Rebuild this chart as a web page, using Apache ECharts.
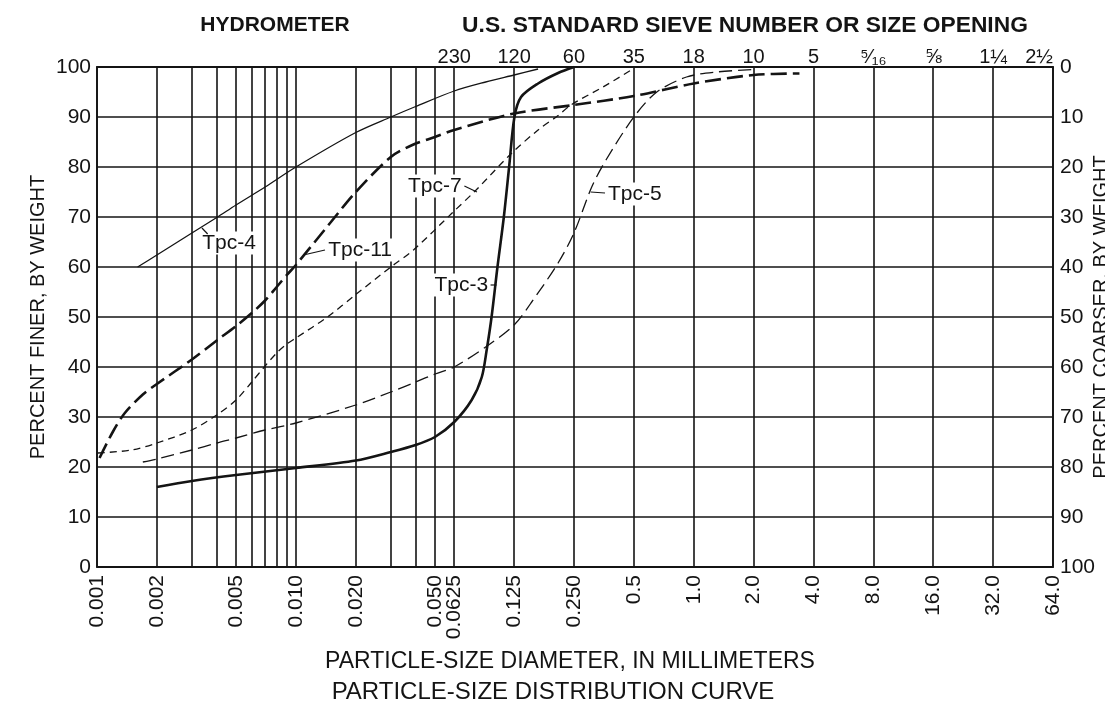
<!DOCTYPE html>
<html><head><meta charset="utf-8">
<script src="https://cdn.jsdelivr.net/npm/echarts@6/dist/echarts.min.js"></script>
<style>html,body{margin:0;padding:0;background:#fff}#c{width:1105px;height:722px}</style>
</head><body><div id="c"></div>
<script>
// ---- data (particle size in mm, percent finer by weight) ----
const tpc4Size  = [0.0016, 0.002, 0.003, 0.004, 0.005, 0.007, 0.010, 0.020, 0.030, 0.040, 0.0625, 0.09, 0.125, 0.165];
const tpc4Finer = [60, 62.4, 66.8, 69.9, 72.4, 76, 80, 86.9, 90, 92.1, 95.2, 97, 98.4, 99.6];

const tpc11Size  = [0.00103, 0.0012, 0.00138, 0.0017, 0.002, 0.003, 0.004, 0.005, 0.006, 0.007, 0.008, 0.009, 0.010, 0.015, 0.020, 0.030, 0.039, 0.050, 0.0625, 0.125, 0.25, 0.5, 1.0, 2.0, 3.4];
const tpc11Finer = [21.8, 27, 30.8, 34.5, 36.6, 41.5, 45.3, 48.2, 50.8, 53.3, 56, 58.4, 60.4, 69, 75, 82, 84.5, 86, 87.4, 90.7, 92.4, 94.2, 96.7, 98.4, 98.7];

const tpc7Size  = [0.00101, 0.0015, 0.002, 0.003, 0.004, 0.005, 0.006, 0.007, 0.008, 0.009, 0.010, 0.0144, 0.020, 0.030, 0.039, 0.061, 0.0805, 0.121, 0.165, 0.208, 0.241, 0.35, 0.49];
const tpc7Finer = [22.8, 23.4, 24.8, 27.4, 30.4, 33.4, 37, 40.2, 42.8, 44.6, 45.8, 50, 54.5, 60, 63.4, 70.8, 75.4, 82.7, 87.4, 90.3, 92.4, 96, 99.5];

const tpc3Size  = [0.002, 0.003, 0.005, 0.010, 0.020, 0.030, 0.040, 0.050, 0.0625, 0.0765, 0.086, 0.091, 0.0963, 0.1031, 0.111, 0.118, 0.1255, 0.1355, 0.165, 0.208, 0.25];
const tpc3Finer = [16, 17.2, 18.4, 19.8, 21.3, 23, 24.4, 26, 29, 33.4, 38, 43.4, 50, 60, 70, 80, 90, 94, 96.7, 98.8, 100];

const tpc5Size  = [0.0017, 0.002, 0.003, 0.004, 0.005, 0.007, 0.010, 0.020, 0.030, 0.040, 0.050, 0.0625, 0.093, 0.125, 0.152, 0.208, 0.25, 0.307, 0.362, 0.5, 0.652, 0.92, 1.3, 2.0];
const tpc5Finer = [21, 21.6, 23.4, 24.8, 25.8, 27.4, 28.8, 32.4, 35, 37, 38.6, 40, 44.4, 48.4, 52.8, 60.8, 66.8, 76, 81.4, 90, 95, 98, 99, 99.5];

// ---- ticks ----
const xGridValues  = [0.001,0.002,0.003,0.004,0.005,0.006,0.007,0.008,0.009,0.010,0.020,0.030,0.040,0.050,0.0625,0.125,0.25,0.5,1,2,4,8,16,32,64];
const xLabelValues = [0.001,0.002,0.005,0.010,0.020,0.050,0.0625,0.125,0.250,0.5,1,2,4,8,16,32,64];
const xLabelTexts  = ['0.001','0.002','0.005','0.010','0.020','0.050','0.0625','0.125','0.250','0.5','1.0','2.0','4.0','8.0','16.0','32.0','64.0'];
const sieveValues  = [0.0625,0.125,0.25,0.5,1,2,4,8,16,32,64];
const sieveLabels  = ['230','120','60','35','18','10','5','\u2075\u2044\u2081\u2086','\u215D','1\u00BC','2\u00BD'];

// ---- curve labels (data coordinates) ----
const curveLabelNames = ['Tpc-4','Tpc-11','Tpc-7','Tpc-3','Tpc-5'];
const curveLabelText  = [[0.0033,64.8],[0.0142,63.4],[0.0697,76.2],[0.0948,56.4],[0.362,74.6]];
const curveLabelAlign = ['left','left','right','right','left'];
const leaderFrom = [[0.00337,67.8],[0.0109,62.4],[0.0703,76.2],[0.0952,56.4],[0.303,75]];
const leaderTo   = [[0.0036,66.6],[0.014,63.4],[0.0813,75],[0.102,56.4],[0.358,74.8]];

const FONT = '"Liberation Sans", Arial, Helvetica, sans-serif';
const INK = '#141414';

function pick(v, vals, texts) {
  for (let i = 0; i < vals.length; i++) {
    if (Math.abs(Math.log10(v) - Math.log10(vals[i])) < 1e-4) return texts[i];
  }
  return '';
}
const pairs = (xs, ys) => xs.map((x, i) => [x, ys[i]]);

const chart = echarts.init(document.getElementById('c'), null, {renderer: 'canvas'});

function curve(name, xs, ys, w, type) {
  return {
    name, type: 'line', data: pairs(xs, ys), showSymbol: false, symbol: 'none',
    smooth: 0.3, lineStyle: {color: INK, width: w, type: type}, silent: true, z: 5,
    xAxisIndex: 0, yAxisIndex: 0
  };
}

const titleStyle = (size, weight) => ({fontFamily: FONT, fontSize: size, fontWeight: weight, color: INK});

chart.setOption({
  backgroundColor: '#fff',
  animation: false,
  textStyle: {fontFamily: FONT, color: INK},
  title: [
    {text: 'HYDROMETER', left: 275, top: 15, textAlign: 'center', padding: 0, textStyle: titleStyle(21, 'bold')},
    {text: 'U.S. STANDARD SIEVE NUMBER OR SIZE OPENING', left: 745, top: 14, textAlign: 'center', padding: 0, textStyle: titleStyle(22.8, 'bold')},
    {text: 'PARTICLE-SIZE DIAMETER, IN MILLIMETERS', left: 570, top: 650, textAlign: 'center', padding: 0, textStyle: titleStyle(23, 'normal')},
    {text: 'PARTICLE-SIZE DISTRIBUTION CURVE', left: 553, top: 680, textAlign: 'center', padding: 0, textStyle: titleStyle(24, 'normal')}
  ],
  grid: {left: 97, right: 52, top: 67, bottom: 155, containLabel: false, outerBoundsMode: 'none'},
  xAxis: [
    {
      type: 'log', logBase: 10, min: 0.001, max: 64, position: 'bottom',
      axisLine: {show: true, lineStyle: {color: INK, width: 1.8}},
      axisTick: {show: false, customValues: xGridValues},
      splitLine: {show: true, lineStyle: {color: INK, width: 1.6}},
      axisLabel: {
        customValues: xLabelValues, rotate: 90, margin: 8,
        fontFamily: FONT, fontSize: 21, color: INK,
        formatter: v => pick(v, xLabelValues, xLabelTexts)
      }
    },
    {
      type: 'log', logBase: 10, min: 0.001, max: 64, position: 'top',
      axisLine: {show: true, lineStyle: {color: INK, width: 1.8}},
      axisTick: {show: false, customValues: sieveValues},
      splitLine: {show: false},
      axisLabel: {
        customValues: sieveValues, margin: 0, alignMaxLabel: 'right',
        fontFamily: FONT, fontSize: 20, color: INK,
        formatter: v => pick(v, sieveValues, sieveLabels)
      }
    }
  ],
  yAxis: [
    {
      type: 'value', min: 0, max: 100, interval: 10, position: 'left',
      name: 'PERCENT FINER, BY WEIGHT', nameLocation: 'middle', nameRotate: 90, nameGap: 49,
      nameMoveOverlap: false,
      nameTextStyle: {fontFamily: FONT, fontSize: 20, color: INK},
      axisLine: {show: true, lineStyle: {color: INK, width: 1.8}},
      axisTick: {show: false},
      splitLine: {show: true, lineStyle: {color: INK, width: 1.6}},
      axisLabel: {margin: 6, fontFamily: FONT, fontSize: 21, color: INK}
    },
    {
      type: 'value', min: 0, max: 100, interval: 10, position: 'right', inverse: true,
      name: 'PERCENT COARSER, BY WEIGHT', nameLocation: 'middle', nameRotate: 90, nameGap: 38,
      nameMoveOverlap: false,
      nameTextStyle: {fontFamily: FONT, fontSize: 20, color: INK},
      axisLine: {show: true, lineStyle: {color: INK, width: 1.8}},
      axisTick: {show: false},
      splitLine: {show: false},
      axisLabel: {margin: 7, fontFamily: FONT, fontSize: 21, color: INK}
    }
  ],
  series: [
    curve('Tpc-4', tpc4Size, tpc4Finer, 1.3, 'solid'),
    curve('Tpc-11', tpc11Size, tpc11Finer, 2.6, [16, 6]),
    curve('Tpc-7', tpc7Size, tpc7Finer, 1.3, [7, 5]),
    curve('Tpc-3', tpc3Size, tpc3Finer, 2.6, 'solid'),
    curve('Tpc-5', tpc5Size, tpc5Finer, 1.3, [13, 6])
  ]
});

// annotations: curve names with leader lines, placed from data coordinates
const toPx = p => chart.convertToPixel({xAxisIndex: 0, yAxisIndex: 0}, p);
const graphics = [];
curveLabelNames.forEach((name, i) => {
  const a = toPx(leaderFrom[i]), b = toPx(leaderTo[i]), t = toPx(curveLabelText[i]);
  graphics.push({
    type: 'line', z: 20, silent: true,
    shape: {x1: a[0], y1: a[1], x2: b[0], y2: b[1]},
    style: {stroke: INK, lineWidth: 1.2}
  });
  graphics.push({
    type: 'text', z: 19, silent: true, x: t[0], y: t[1],
    style: {
      text: name, font: '21px ' + FONT, fill: INK,
      align: curveLabelAlign[i], verticalAlign: 'middle',
      backgroundColor: '#fff', padding: [1, 2, 1, 2]
    }
  });
});
chart.setOption({graphic: graphics});
</script>
</body></html>
